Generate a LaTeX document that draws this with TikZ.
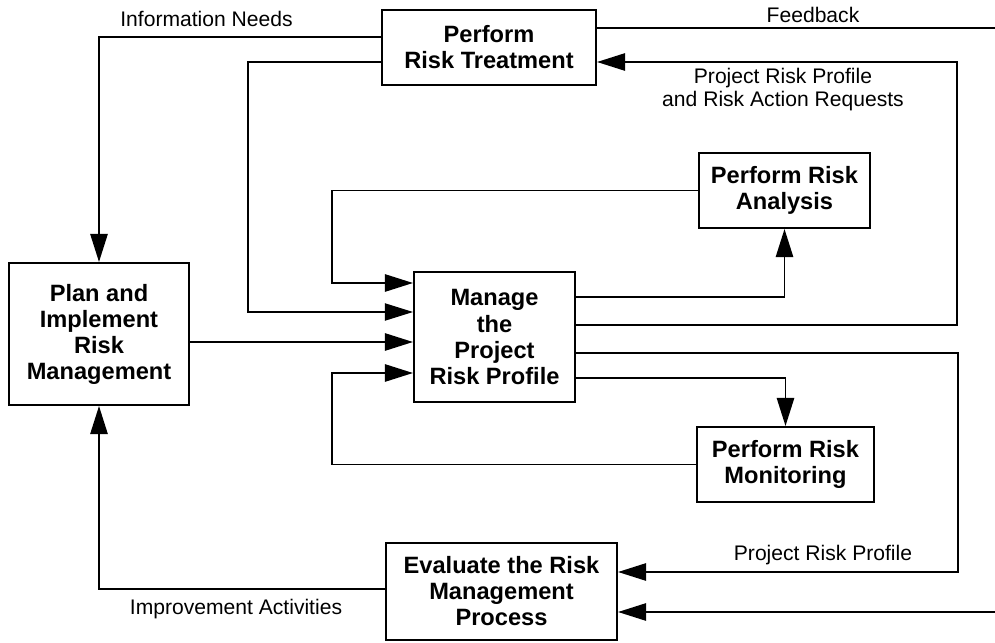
\documentclass[tikz,border=0pt]{standalone}
\usepackage{fontspec}
\setmainfont{Liberation Sans}
\usetikzlibrary{arrows.meta}

\begin{document}
\begin{tikzpicture}[x=0.025cm, y=-0.025cm,
  procbox/.style={draw, line width=1.4pt, inner sep=0pt, align=center, font=\fontsize{16.8}{18.5}\selectfont\bfseries},
  flow/.style={line width=1.4pt},
  thinflow/.style={line width=0.8pt},
  tip/.style={-{Triangle[length=7mm,width=4.3mm]}},
  flowlabel/.style={font=\fontsize{15}{16.4}\selectfont, inner sep=0pt, align=center}]%
\useasboundingbox (0,0) rectangle (995,643);%
% process boxes
\node[procbox, minimum width=5.35cm, minimum height=1.875cm] (treat) at (489,47.5) {Perform\\Risk Treatment};%
\node[procbox, minimum width=4.275cm, minimum height=1.875cm] (anal) at (784.5,190.5) {Perform Risk\\Analysis};%
\node[procbox, minimum width=4.025cm, minimum height=3.25cm] (manage) at (494.5,337) {Manage\\the\\Project\\Risk Profile};%
\node[procbox, minimum width=4.5cm, minimum height=3.55cm] (plan) at (99,334) {Plan and\\Implement\\Risk\\Management};%
\node[procbox, minimum width=4.425cm, minimum height=1.875cm] (monit) at (785.5,464.5) {Perform Risk\\Monitoring};%
\node[procbox, minimum width=5.775cm, minimum height=2.425cm] (eval) at (501.5,591.5) {Evaluate the Risk\\Management\\Process};%
% flow labels
\node[flowlabel, anchor=base] (infolbl) at (206.5,27) {Information Needs};%
\node[flowlabel, anchor=base] (fblbl) at (813,23) {Feedback};%
\node[flowlabel] (reqlbl) at (783,90) {Project Risk Profile\\and Risk Action Requests};%
\node[flowlabel, anchor=base] (prplbl) at (823,560) {Project Risk Profile};%
\node[flowlabel, anchor=base] (implbl) at (236,614) {Improvement Activities};%
% bend points
\coordinate (infoBend) at (98,37);%
\coordinate (tmTop) at (248,62);%
\coordinate (tmBot) at (248,312);%
\coordinate (anBend) at (332,283);%
\coordinate (pmY) at (0,342);%
\coordinate (moBend) at (332,373);%
\coordinate (maY) at (0,297);%
\coordinate (mmY) at (0,378);%
\coordinate (mtY) at (0,325);%
\coordinate (mtBend) at (957,62);%
\coordinate (meY) at (0,353);%
\coordinate (meBend) at (958,572);%
\coordinate (extIn) at (995,612);%
\coordinate (fbEnd) at (995,28);%
\coordinate (impY) at (0,589);%
% connectors
\draw[flow, tip] (treat.west |- infoBend) -| (plan.north);%
\draw[thinflow, tip] (treat.west |- tmTop) -- (tmTop) -- (tmBot) -- (manage.west |- tmBot);%
\draw[flow, tip] (anal.west) -| (anBend) -- (manage.west |- anBend);%
\draw[flow, tip] (plan.east |- pmY) -- (manage.west |- pmY);%
\draw[flow, tip] (monit.west) -| (moBend) -- (manage.west |- moBend);%
\draw[flow, tip] (manage.east |- maY) -| (anal.south);%
\draw[flow, tip] (manage.east |- mmY) -| (monit.north);%
\draw[flow, tip] (manage.east |- mtY) -| (mtBend) -- (treat.east |- mtBend);%
\draw[flow, tip] (manage.east |- meY) -| (meBend) -- (eval.east |- meBend);%
\draw[flow, tip] (extIn) -- (eval.east |- extIn);%
\draw[thinflow] (treat.east |- fbEnd) -- (fbEnd);%
\draw[flow, tip] (eval.west |- impY) -| (plan.south);%
\end{tikzpicture}
\end{document}
